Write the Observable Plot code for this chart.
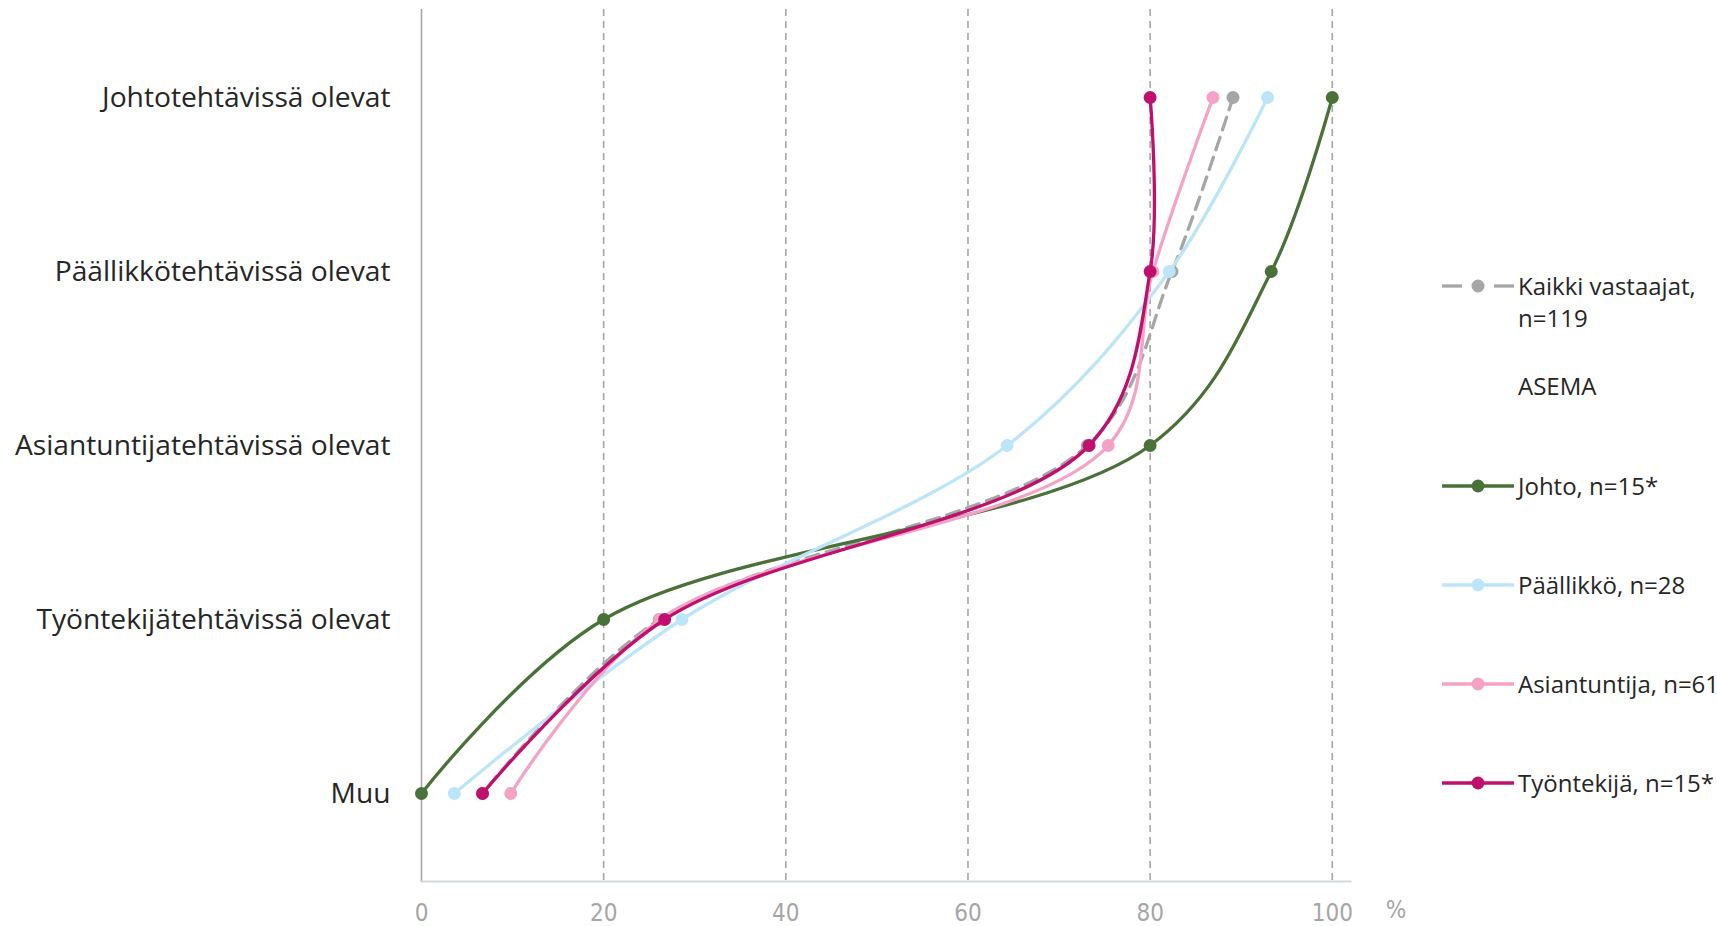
<!DOCTYPE html>
<html>
<head>
<meta charset="utf-8">
<script src="https://cdn.jsdelivr.net/npm/d3@7"></script>
<script src="https://cdn.jsdelivr.net/npm/@observablehq/plot@0.6"></script>
<style>
  html, body { margin: 0; padding: 0; background: #fff; }
  #wrap { position: relative; width: 1717px; height: 926px; font-family: "Open Sans", sans-serif; }
  #legend { position: absolute; left: 0; top: 0; width: 1717px; height: 926px; pointer-events: none; }
  .txt { position: absolute; left: 1518px; font-size: 24px; color: #262626; line-height: 32px; white-space: nowrap; }
</style>
</head>
<body>
<div id="wrap">
  <div id="chart"></div>
  <div id="legend"></div>
</div>
<script>
const categories = ["Johtotehtävissä olevat", "Päällikkötehtävissä olevat", "Asiantuntijatehtävissä olevat", "Työntekijätehtävissä olevat", "Muu"];
const seriesNames = ["Kaikki vastaajat, n=119", "Johto, n=15*", "Päällikkö, n=28", "Asiantuntija, n=61", "Työntekijä, n=15*"];
const seriesColors = ["#a6a6a6", "#4a7238", "#bde5f8", "#f4a3c7", "#c0106e"];
const kaikki = [89.1, 82.4, 73.1, 26.1, 6.7];
const johto = [100, 93.3, 80, 20, 0];
const paallikko = [92.9, 82.1, 64.3, 28.6, 3.6];
const asiantuntija = [86.9, 80.3, 75.4, 26.2, 9.8];
const tyontekija = [80, 80, 73.3, 26.7, 6.7];
const xTicks = [0, 20, 40, 60, 80, 100];

const seriesValues = [kaikki, johto, paallikko, asiantuntija, tyontekija];
const rows = [];
seriesValues.forEach((vals, i) => {
  vals.forEach((v, j) => rows.push({series: seriesNames[i], cat: categories[j], value: v, idx: i}));
});

const tickFont = "'DejaVu Sans Condensed', 'Liberation Sans Narrow', sans-serif";
const marks = [
  Plot.ruleX([0], {stroke: "#a6a6a6", strokeWidth: 1.6}),
  Plot.ruleX(xTicks.filter(d => d > 0), {stroke: "#a6a6a6", strokeWidth: 1.6, strokeDasharray: "7,5"}),
  Plot.frame({anchor: "bottom", stroke: "#d3dadb", strokeWidth: 2}),
  Plot.axisX({ticks: xTicks, tickSize: 0, tickPadding: 22, fontSize: 24, fill: "#a6a6a6", label: null,
    fontFamily: tickFont, fontWeight: 300}),
  Plot.text(["%"], {x: () => 107, frameAnchor: "bottom", dy: 36, fontSize: 24, fill: "#a6a6a6",
    fontFamily: tickFont, fontWeight: 300}),
  Plot.axisY({tickSize: 0, tickPadding: 31, fontSize: 28.2, fill: "#262626", label: null, fontFamily: "'Open Sans', sans-serif"})
];
seriesNames.forEach((name, i) => {
  const d = rows.filter(r => r.idx === i);
  marks.push(Plot.line(d, {x: "value", y: "cat", stroke: seriesColors[i], strokeWidth: 3.3, curve: "catmull-rom",
    strokeDasharray: i === 0 ? "13,8" : null}));
  marks.push(Plot.dot(d, {x: "value", y: "cat", fill: seriesColors[i], r: 6.5}));
});

const chart = Plot.plot({
  width: 1717,
  height: 926,
  marginLeft: 421,
  marginRight: 367,
  marginTop: 9,
  marginBottom: 45,
  x: {domain: [0, 102]},
  y: {domain: categories, type: "point", padding: 0.5},
  style: {background: "#fff", overflow: "visible"},
  marks
});
document.getElementById("chart").appendChild(chart);

// Legend
const legend = document.getElementById("legend");
const legendRows = [
  {i: 0, y: 286, lines: ["Kaikki vastaajat,", "n=119"]},
  {i: null, y: 386, lines: ["ASEMA"]},
  {i: 1, y: 486, lines: ["Johto, n=15*"]},
  {i: 2, y: 585, lines: ["Päällikkö, n=28"]},
  {i: 3, y: 684, lines: ["Asiantuntija, n=61"]},
  {i: 4, y: 783, lines: ["Työntekijä, n=15*"]}
];
legendRows.forEach(r => {
  if (r.i !== null) {
    const c = seriesColors[r.i];
    const sw = document.createElementNS("http://www.w3.org/2000/svg", "svg");
    sw.setAttribute("width", 74); sw.setAttribute("height", 20);
    sw.style.position = "absolute"; sw.style.left = "1441px"; sw.style.top = (r.y - 10) + "px";
    if (r.i === 0) {
      sw.innerHTML = `<line x1="1" x2="21" y1="10" y2="10" stroke="${c}" stroke-width="3.3"/><line x1="53" x2="73" y1="10" y2="10" stroke="${c}" stroke-width="3.3"/><circle cx="37" cy="10" r="6.5" fill="${c}"/>`;
    } else {
      sw.innerHTML = `<line x1="1" x2="73" y1="10" y2="10" stroke="${c}" stroke-width="3.3"/><circle cx="37" cy="10" r="6.5" fill="${c}"/>`;
    }
    legend.appendChild(sw);
  }
  const t = document.createElement("div");
  t.className = "txt";
  t.style.top = (r.y - 16) + "px";
  t.innerHTML = r.lines.join("<br>");
  legend.appendChild(t);
});
</script>
</body>
</html>
